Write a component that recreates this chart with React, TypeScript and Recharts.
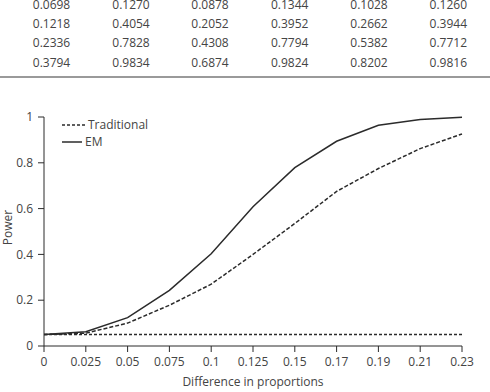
import React from 'react';
import { LineChart, Line, XAxis, YAxis, ReferenceLine, Legend } from 'recharts';

const tableRows: string[][] = [
  ['0.0698', '0.1270', '0.0878', '0.1344', '0.1028', '0.1260'],
  ['0.1218', '0.4054', '0.2052', '0.3952', '0.2662', '0.3944'],
  ['0.2336', '0.7828', '0.4308', '0.7794', '0.5382', '0.7712'],
  ['0.3794', '0.9834', '0.6874', '0.9824', '0.8202', '0.9816'],
];

const differences = ['0', '0.025', '0.05', '0.075', '0.1', '0.125', '0.15', '0.17', '0.19', '0.21', '0.23'];
const traditional = [0.05, 0.056, 0.1, 0.178, 0.27, 0.4, 0.535, 0.675, 0.775, 0.862, 0.926];
const em = [0.05, 0.062, 0.124, 0.243, 0.403, 0.608, 0.779, 0.894, 0.964, 0.989, 0.999];
const alphaLevel = 0.05;
const yTicks = [0, 0.2, 0.4, 0.6, 0.8, 1];

const data = differences.map((d, i) => ({ d, traditional: traditional[i], em: em[i] }));

const FONT = '"Open Sans", sans-serif';
const INK = '#2b2b2b';
const TEXT = '#444';

const colCenters = [51.5, 131, 210, 289.7, 369, 448.3];

const LegendContent = () => (
  <div style={{ fontFamily: FONT, fontSize: 12, color: TEXT, lineHeight: '17px' }}>
    <div style={{ display: 'flex', alignItems: 'center' }}>
      <svg width={26} height={10}>
        <line x1={1} y1={5} x2={25} y2={5} stroke={INK} strokeWidth={1.5} strokeDasharray="3 2" />
      </svg>
      <span style={{ marginLeft: 1 }}>Traditional</span>
    </div>
    <div style={{ display: 'flex', alignItems: 'center' }}>
      <svg width={24} height={10}>
        <line x1={1} y1={5} x2={21} y2={5} stroke={INK} strokeWidth={1.5} />
      </svg>
      <span style={{ marginLeft: 0 }}>EM</span>
    </div>
  </div>
);

const YLabel = (props: any) => {
  const vb = props.viewBox || { x: 0, y: 0, width: 0, height: 0 };
  const cx = 7;
  const cy = vb.y + vb.height / 2 - 4;
  return (
    <text
      x={cx}
      y={cy}
      transform={`rotate(-90 ${cx} ${cy})`}
      textAnchor="middle"
      dominantBaseline="central"
      fill={TEXT}
      fontFamily={FONT}
      fontSize={12}
    >
      Power
    </text>
  );
};

export default function App() {
  return (
    <div style={{ position: 'absolute', left: 0, top: 0, width: 490, height: 392, background: '#fff', overflow: 'hidden' }}>
      {tableRows.map((row, r) =>
        row.map((v, c) => (
          <div
            key={`${r}-${c}`}
            style={{
              position: 'absolute',
              left: colCenters[c] - 30,
              width: 60,
              top: Math.max(0, 5.2 + r * 19.1 - 5),
              height: 10,
              lineHeight: '10px',
              textAlign: 'center',
              fontFamily: FONT,
              fontSize: 12,
              color: TEXT,
            }}
          >
            {v}
          </div>
        ))
      )}
      <div style={{ position: 'absolute', left: 0, width: 490, top: 76, height: 2, background: '#9a9a9a' }} />
      <div style={{ position: 'absolute', left: 0, top: 0 }}>
        <LineChart
          width={490}
          height={392}
          data={data}
          margin={{ top: 117, right: 28, bottom: 0, left: 0 }}
        >
          <XAxis
            dataKey="d"
            height={46}
            tickSize={6}
            tickMargin={5}
            stroke={INK}
            tick={{ fill: TEXT, fontSize: 12, fontFamily: FONT }}
            interval={0}
            label={{ value: 'Difference in proportions', position: 'insideBottom', offset: 6, fill: TEXT, fontSize: 12, fontFamily: FONT }}
          />
          <YAxis
            width={44}
            domain={[0, 1]}
            ticks={yTicks}
            tickSize={6}
            tickMargin={5}
            stroke={INK}
            tick={{ fill: TEXT, fontSize: 12, fontFamily: FONT }}
            label={<YLabel />}
          />
          <ReferenceLine y={alphaLevel} stroke={INK} strokeWidth={1.5} strokeDasharray="3 2" ifOverflow="visible" />
          <Line
            dataKey="traditional"
            stroke={INK}
            strokeWidth={1.5}
            strokeDasharray="4 2"
            dot={false}
            isAnimationActive={false}
          />
          <Line dataKey="em" stroke={INK} strokeWidth={1.5} dot={false} isAnimationActive={false} />
          <Legend
            layout="vertical"
            align="center"
            verticalAlign="middle"
            content={<LegendContent />}
            wrapperStyle={{ position: 'absolute', left: 61, top: 116, width: 'auto', height: 'auto' }}
          />
        </LineChart>
      </div>
    </div>
  );
}
